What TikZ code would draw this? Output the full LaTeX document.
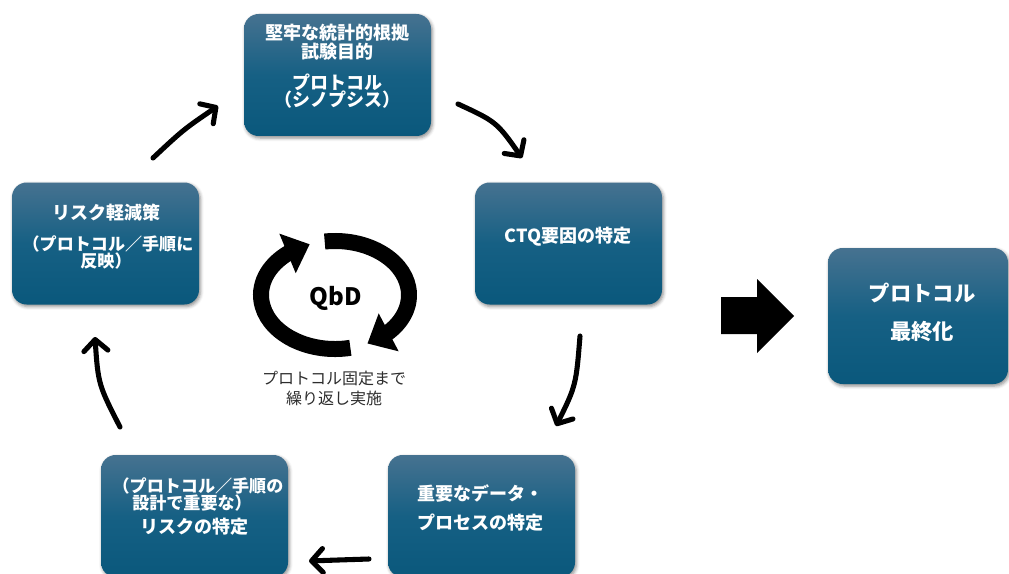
\documentclass[tikz,border=0pt]{standalone}
\usepackage{fontspec}
\setmainfont{Noto Sans CJK JP}
\usetikzlibrary{arrows.meta,bending,shadows.blur}
\definecolor{boxtop}{RGB}{70,114,144}
\definecolor{boxmid}{RGB}{22,96,132}
\definecolor{boxbot}{RGB}{10,88,124}
\definecolor{labelgray}{RGB}{45,45,45}
\tikzset{
  box/.style={rounded corners=11pt, minimum width=140.25pt, minimum height=91.5pt,
    top color=boxtop, bottom color=boxbot, middle color=boxmid, inner sep=0pt,
    blur shadow={shadow xshift=1pt, shadow yshift=-1.5pt, shadow blur radius=2.5pt, shadow opacity=45}},
  btxt/.style={text=white, inner sep=0pt, font=\fontsize{13.5}{15}\selectfont\bfseries},
  stxt/.style={text=white, inner sep=0pt, font=\fontsize{12.8}{14}\selectfont\bfseries},
  ftxt/.style={text=white, inner sep=0pt, font=\fontsize{16}{18}\selectfont\bfseries},
  arr/.style={line width=3.8pt, line cap=round,
    -{Straight Barb[length=8.5pt, width=18pt, line cap=round, line join=round]}},
  cyc/.style={line width=12pt, -{Triangle[length=18pt, width=31pt, flex]}},
}
\begin{document}
\begin{tikzpicture}[x=0.75pt, y=-0.75pt]
\useasboundingbox (0,0) rectangle (1009,574);
% boxes
\node[box] (proto) at (337.5,75) {};
\node[box] (ctq) at (568.5,243.5) {};
\node[box] (mit) at (105.5,243.5) {};
\node[box] (riskid) at (194.5,516) {};
\node[box] (data) at (481.5,516) {};
\node[box, minimum width=135pt, minimum height=102pt] (final) at (918,316) {};
% texts
\node[btxt] (t1a) at (337,33) {堅牢な統計的根拠};
\node[btxt] (t1b) at (337,52) {試験目的};
\node[btxt] (t1c) at (337,82) {プロトコル};
\node[btxt] (t1d) at (337,100) {（シノプシス）};
\node[btxt] (t2) at (568,237) {CTQ要因の特定};
\node[btxt] (t3a) at (106,213) {リスク軽減策};
\node[stxt] (t3b) at (108,243.5) {（プロトコル／手順に};
\node[stxt] (t3c) at (106,261.5) {反映）};
\node[stxt] (t4a) at (198,485.5) {（プロトコル／手順の};
\node[stxt] (t4b) at (192,503.5) {設計で重要な）};
\node[btxt] (t4c) at (194,527) {リスクの特定};
\node[btxt] (t5a) at (480,493) {重要なデータ・};
\node[btxt] (t5b) at (480,523) {プロセスの特定};
\node[ftxt] (t6a) at (922,293) {プロトコル};
\node[ftxt] (t6b) at (922,332) {最終化};
% cycle arrows between boxes
\coordinate (a1s) at (153,158); \coordinate (a1c) at (184,129); \coordinate (a1e) at (218,106);
\coordinate (a2s) at (458,104); \coordinate (a2c) at (497,122); \coordinate (a2e) at (522,158);
\coordinate (a3s) at (580,336); \coordinate (a3c) at (576,386); \coordinate (a3e) at (556,426);
\coordinate (a4s) at (369,559); \coordinate (a4c) at (338,560); \coordinate (a4e) at (309,561);
\coordinate (a5s) at (120,427); \coordinate (a5c) at (98,384); \coordinate (a5e) at (95,337);
\draw[arr] (a1s) .. controls (a1c) .. (a1e);
\draw[arr] (a2s) .. controls (a2c) .. (a2e);
\draw[arr] (a3s) .. controls (a3c) .. (a3e);
\draw[arr] (a4s) .. controls (a4c) .. (a4e);
\draw[arr] (a5s) .. controls (a5c) .. (a5e);
% QbD cycle
\coordinate (cc) at (335,295);
\draw[cyc] ([shift={(78:74 and 54)}]cc) arc[start angle=78, end angle=250, x radius=74, y radius=54];
\draw[cyc] ([shift={(262:74 and 54)}]cc) arc[start angle=262, end angle=424, x radius=74, y radius=54];
\node[inner sep=0pt, font=\fontsize{18}{20}\selectfont\bfseries] (qbd) at (336,298) {QbD};
\node[inner sep=0pt, text=labelgray, font=\fontsize{12}{14}\selectfont] (l1) at (334,378) {プロトコル固定まで};
\node[inner sep=0pt, text=labelgray, font=\fontsize{12}{14}\selectfont] (l2) at (334,398) {繰り返し実施};
% big block arrow
\fill[black] (721,297) -- (757,297) -- (757,279) -- (794,316) -- (757,353) -- (757,334) -- (721,334) -- cycle;
\end{tikzpicture}
\end{document}
